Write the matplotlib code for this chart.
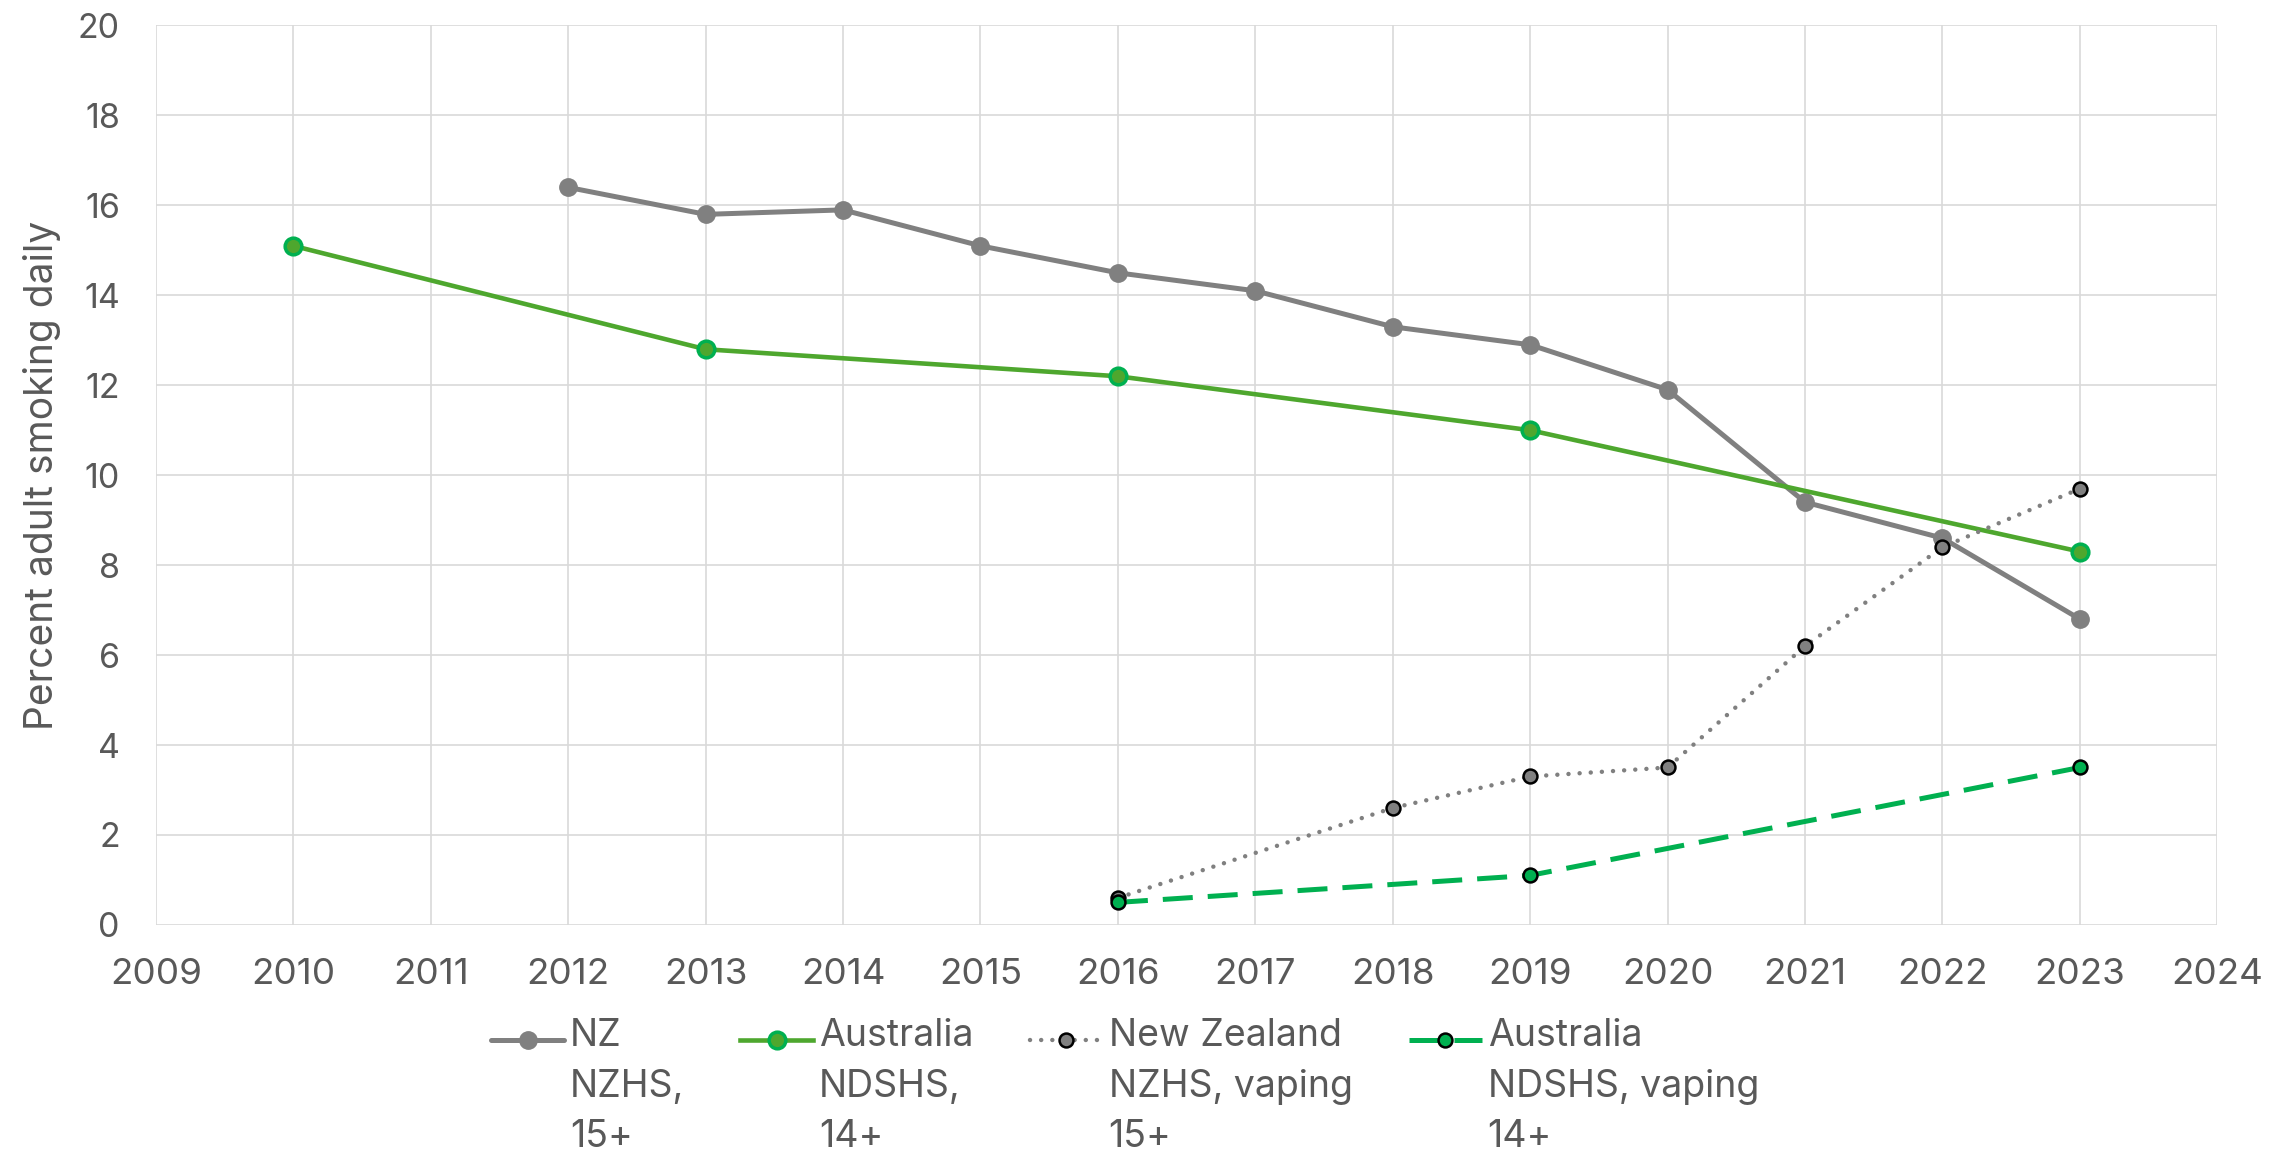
"""Daily smoking and vaping prevalence, NZ vs Australia."""

import matplotlib

matplotlib.use("Agg")
import matplotlib.pyplot as plt
from matplotlib.legend_handler import HandlerLine2D
from matplotlib.transforms import Affine2D

# ---- data ---------------------------------------------------------------
nz_years = [2012, 2013, 2014, 2015, 2016, 2017, 2018, 2019, 2020, 2021, 2022, 2023]
nz_smoking = [16.4, 15.8, 15.9, 15.1, 14.5, 14.1, 13.3, 12.9, 11.9, 9.4, 8.6, 6.8]

au_years = [2010, 2013, 2016, 2019, 2023]
au_smoking = [15.1, 12.8, 12.2, 11.0, 8.3]

nz_vape_years = [2016, 2018, 2019, 2020, 2021, 2022, 2023]
nz_vaping = [0.6, 2.6, 3.3, 3.5, 6.2, 8.4, 9.7]

au_vape_years = [2016, 2019, 2023]
au_vaping = [0.5, 1.1, 3.5]

labels = [
    "NZ\nNZHS,\n15+",
    "Australia\nNDSHS,\n14+",
    "New Zealand\nNZHS, vaping\n15+",
    "Australia\nNDSHS, vaping\n14+",
]
x_ticks = list(range(2009, 2025))
y_ticks = list(range(0, 21, 2))
y_label = "Percent adult smoking daily"

# ---- style --------------------------------------------------------------
TEXT = "#595959"
GRID = "#D9D9D9"
GREY = "#808080"
GREEN_LINE = "#4EA72E"
GREEN = "#00B050"

plt.rcParams["font.family"] = ["Inter", "DejaVu Sans"]


class FirstLineHandler(HandlerLine2D):
    """Line handler lifted so it sits beside the first line of a 3-line label."""

    def __init__(self, shift, **kw):
        super().__init__(**kw)
        self.shift = shift

    def create_artists(self, legend, orig_handle, xdescent, ydescent,
                       width, height, fontsize, trans):
        moved = Affine2D().translate(0, self.shift) + trans
        return super().create_artists(legend, orig_handle, xdescent, ydescent,
                                      width, height, fontsize, moved)


fig = plt.figure(figsize=(22.93, 11.59), dpi=100)
ax = fig.add_axes([0.068, 0.202, 0.899, 0.776])

h1, = ax.plot(nz_years, nz_smoking, color=GREY, lw=3.6, marker="o",
              ms=12.5, mfc=GREY, mec=GREY, solid_capstyle="round")
h2, = ax.plot(au_years, au_smoking, color=GREEN_LINE, lw=3.3, marker="o",
              ms=12, mfc=GREEN_LINE, mec=GREEN, mew=2.5)
h3, = ax.plot(nz_vape_years, nz_vaping, color=GREY, lw=3.2,
              linestyle=(0, (0.01, 2.5)), dash_capstyle="round",
              marker="o", ms=10, mfc=GREY, mec="black", mew=1.8)
h4, = ax.plot(au_vape_years, au_vaping, color=GREEN, lw=3.6,
              linestyle=(0, (6, 3)), marker="o", ms=10, mfc=GREEN,
              mec="black", mew=1.8)

ax.set_xlim(2009, 2024)
ax.set_ylim(0, 20)
ax.set_xticks(x_ticks)
ax.set_yticks(y_ticks)
ax.grid(True, color=GRID, lw=1.2)
ax.set_axisbelow(True)
for s in ax.spines.values():
    s.set_visible(False)
ax.tick_params(axis="both", length=0, colors=TEXT)
ax.tick_params(axis="x", labelsize=26.5, pad=24)
ax.tick_params(axis="y", labelsize=24.5, pad=26)
ax.set_ylabel(y_label, fontsize=28, color=TEXT, labelpad=12)

shift = 34
hmap = {h: FirstLineHandler(shift) for h in (h1, h2, h3, h4)}
leg = fig.legend([h1, h2, h3, h4], labels, loc="upper left",
                 bbox_to_anchor=(0.206, 0.138), ncol=4, frameon=False,
                 fontsize=27, handlelength=1.95, handletextpad=0.15,
                 columnspacing=1.5, borderpad=0, handler_map=hmap)
for t in leg.get_texts():
    t.set_color(TEXT)
    t.set_linespacing(1.53)

fig.savefig("out.png", dpi=100)
